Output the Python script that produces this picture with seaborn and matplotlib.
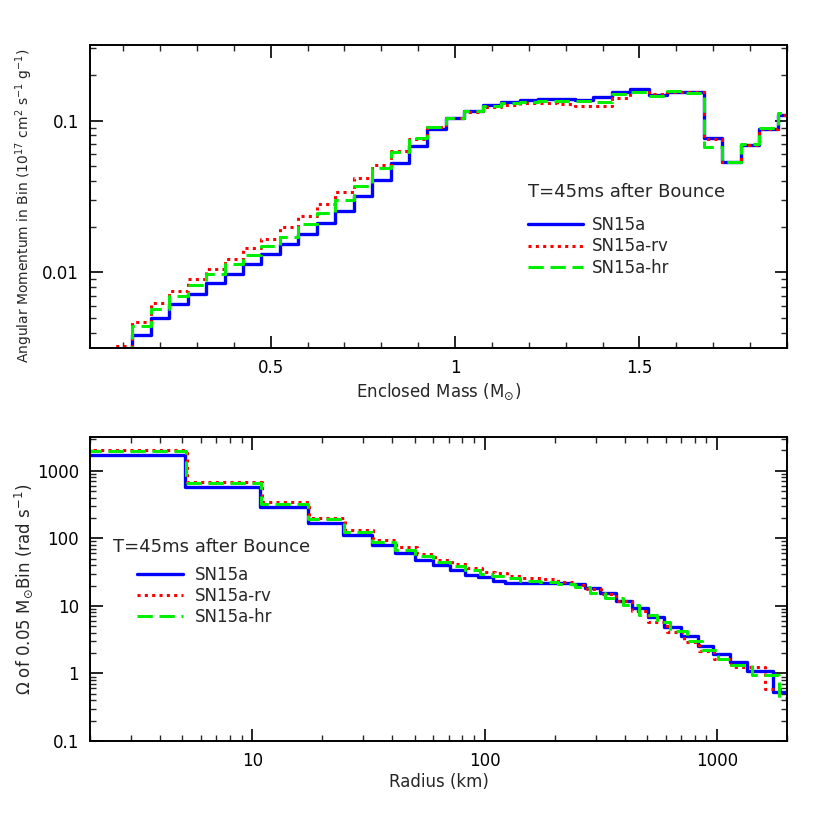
import numpy as np
import matplotlib
matplotlib.use('Agg')
import matplotlib.pyplot as plt
import seaborn as sns
from matplotlib.ticker import MultipleLocator, LogLocator, FuncFormatter, NullFormatter
from matplotlib.lines import Line2D

sns.set_style('ticks')
plt.rcParams['font.family'] = ['DejaVu Sans']
plt.rcParams['mathtext.fontset'] = 'dejavusans'

# ---------------- top panel data: angular momentum per 0.05 Msun bin ----------------
mass = [0.05, 0.10, 0.15, 0.20, 0.25, 0.30, 0.35, 0.40, 0.45, 0.50,
        0.55, 0.60, 0.65, 0.70, 0.75, 0.80, 0.85, 0.90, 0.95, 1.00,
        1.05, 1.10, 1.15, 1.20, 1.25, 1.30, 1.35, 1.40, 1.45, 1.50,
        1.55, 1.60, 1.65, 1.70, 1.75, 1.80, 1.85, 1.90]
j_sn15a = [0.0020, 0.0028, 0.00386, 0.00502, 0.00616, 0.00716, 0.00846, 0.00975, 0.0113, 0.01315,
           0.0154, 0.0180, 0.0212, 0.0255, 0.0317, 0.0404, 0.0528, 0.0680, 0.0878, 0.105,
           0.1164, 0.127, 0.1334, 0.137, 0.139, 0.139, 0.137, 0.1426, 0.154, 0.161,
           0.148, 0.155, 0.155, 0.0775, 0.0535, 0.0688, 0.0878, 0.1096]
j_sn15a_rv = [0.0022, 0.00327, 0.00472, 0.00624, 0.00756, 0.0090, 0.0105, 0.0123, 0.0144, 0.0167,
              0.0200, 0.0236, 0.0282, 0.0340, 0.0417, 0.0510, 0.0630, 0.0760, 0.0904, 0.105,
              0.1146, 0.1236, 0.128, 0.130, 0.130, 0.129, 0.1256, 0.125, 0.1406, 0.155,
              0.150, 0.155, 0.155, 0.0757, 0.0535, 0.0688, 0.0878, 0.1096]
j_sn15a_hr = [0.0020, 0.0029, 0.00443, 0.00573, 0.00698, 0.00824, 0.0097, 0.0113, 0.0130, 0.0150,
              0.0172, 0.0207, 0.0247, 0.0300, 0.0372, 0.0485, 0.0625, 0.0773, 0.0913, 0.105,
              0.1164, 0.125, 0.130, 0.1334, 0.1356, 0.1356, 0.134, 0.132, 0.150, 0.155,
              0.1457, 0.157, 0.1517, 0.0667, 0.0532, 0.0705, 0.089, 0.112]

# ---------------- bottom panel data: Omega of each 0.05 Msun bin vs radius ----------------
r_edges_sn15a = [1.0, 5.13, 10.8, 17.3, 24.6, 32.6, 41.1, 50.1, 60.1, 70.9, 82.3, 93.9,
                 108.3, 122.3, 139.5, 158.3, 178.8, 204.2, 235.3, 270.4, 313.6, 365.7,
                 429.5, 506.3, 593.2, 696.6, 824.8, 964.3, 1132, 1347, 1743, 2500]
omega_sn15a = [1727, 585, 289.3, 167.5, 112.3, 79.8, 60.1, 48.6, 40.3, 34.0, 28.9,
               26.5, 23.6, 22.0, 21.6, 21.6, 22.0, 21.6, 20.8, 18.6, 15.3, 11.9,
               9.18, 6.89, 4.90, 3.56, 2.53, 1.93, 1.50, 1.10, 0.526]
r_edges_sn15a_rv = [1.0, 5.22, 10.97, 17.58, 25.04, 32.96, 41.7, 51.0, 61.1, 72.3, 83.9,
                    97.4, 110.8, 124.8, 143.3, 178.3, 206.8, 247.3, 275.8, 316.7, 367.5,
                    430.8, 505, 609.5, 721, 837, 971, 1149, 1609, 2500]
omega_sn15a_rv = [2049, 693, 350, 198.6, 133, 94.6, 73.8, 58.1, 48.5, 41.5, 36.0,
                  32.1, 30.3, 28.0, 26.0, 24.7, 22.3, 20.4, 17.8, 14.9, 12.0,
                  8.5, 5.8, 4.05, 2.9, 2.15, 1.66, 1.24, 0.59]
r_edges_sn15a_hr = [1.0, 5.18, 10.86, 17.41, 24.8, 32.8, 41.1, 50.1, 59.9, 70.9, 82.3,
                    95.5, 107.5, 122.3, 141.9, 173.0, 206.8, 244.8, 284.0, 329.6, 394,
                    461.6, 552, 628, 740.8, 859.8, 1010, 1149, 1411, 1855, 2500]
omega_sn15a_hr = [1934, 670, 324, 192, 125.7, 89.3, 68, 54.5, 45, 38.5, 33.5,
                  30, 27.5, 25.7, 23.6, 22.9, 21.2, 18.8, 15.6, 12.9, 10.2,
                  7.3, 5.8, 4.28, 3.0, 2.2, 1.66, 1.32, 0.94, 0.434]

labels = ['SN15a', 'SN15a-rv', 'SN15a-hr']
styles = {
    'SN15a': dict(color='#0000ff', linestyle='-', linewidth=2.4),
    'SN15a-rv': dict(color='#ff0000', linestyle=(0, (1.0, 1.4)), linewidth=2.2),
    'SN15a-hr': dict(color='#00ee00', linestyle=(0, (5.0, 2.2)), linewidth=2.2),
}

W, H = 830, 830
fig = plt.figure(figsize=(W / 100, H / 100), dpi=100)
ax1 = fig.add_axes([90 / W, 1 - 348 / H, 697 / W, 303 / H])
ax2 = fig.add_axes([90 / W, 1 - 741 / H, 697 / W, 304 / H])

# top panel
for name, vals in zip(labels, [j_sn15a, j_sn15a_rv, j_sn15a_hr]):
    sns.lineplot(x=mass, y=vals, ax=ax1, estimator=None, drawstyle='steps-mid', **styles[name])

# bottom panel
bottom_sets = [(r_edges_sn15a, omega_sn15a), (r_edges_sn15a_rv, omega_sn15a_rv),
               (r_edges_sn15a_hr, omega_sn15a_hr)]
for name, (edges, om) in zip(labels, bottom_sets):
    yy = list(om) + [om[-1]]
    sns.lineplot(x=edges, y=yy, ax=ax2, estimator=None, drawstyle='steps-post', **styles[name])

fmt = FuncFormatter(lambda v, p: f'{v:g}')

ax1.set_yscale('log')
ax1.set_xlim(0.01, 1.9)
ax1.set_ylim(10 ** -2.5, 10 ** -0.5)
ax1.xaxis.set_major_locator(MultipleLocator(0.5))
ax1.xaxis.set_minor_locator(MultipleLocator(0.1))
ax1.xaxis.set_major_formatter(fmt)

ax2.set_xscale('log')
ax2.set_yscale('log')
ax2.set_xlim(2, 2000)
ax2.set_ylim(0.1, 10 ** 3.5)
ax2.xaxis.set_major_formatter(fmt)

for ax in (ax1, ax2):
    ax.yaxis.set_major_locator(LogLocator(base=10, numticks=12))
    ax.yaxis.set_minor_locator(LogLocator(base=10, subs=np.arange(2, 10), numticks=30))
    ax.yaxis.set_major_formatter(fmt)
    ax.yaxis.set_minor_formatter(NullFormatter())
    ax.tick_params(which='major', direction='in', length=9, width=1.2, top=True, right=True,
                   labelsize=12, pad=8, colors='black')
    ax.tick_params(which='minor', direction='in', length=4.5, width=1.0, top=True, right=True)
    for s in ax.spines.values():
        s.set_linewidth(1.4)
        s.set_color('black')
    ax.grid(False)

ax2.xaxis.set_major_locator(LogLocator(base=10, numticks=12))
ax2.xaxis.set_minor_locator(LogLocator(base=10, subs=np.arange(2, 10), numticks=30))
ax2.xaxis.set_minor_formatter(NullFormatter())

ax1.set_xlabel(r'Enclosed Mass (M$_{\odot}$)', fontsize=12, labelpad=3)
ax1.set_ylabel(r'Angular Momentum in Bin (10$^{17}$ cm$^{2}$ s$^{-1}$ g$^{-1}$)', fontsize=10)
ax1.yaxis.set_label_coords(-0.079, 0.47)
ax2.set_xlabel('Radius (km)', fontsize=12, labelpad=2)
ax2.set_ylabel(r'Ω of 0.05 M$_{\odot}$Bin (rad s$^{-1}$)', fontsize=12)
ax2.yaxis.set_label_coords(-0.079, 0.5)

handles = [Line2D([0], [0], **styles[n]) for n in labels]

# top legend
ax1.text((528 - 90) / 697, (348 - 192) / 303, 'T=45ms after Bounce', transform=ax1.transAxes,
         ha='left', va='center', fontsize=13)
ax1.legend(handles, labels, loc='upper left', bbox_to_anchor=((528 - 90) / 697, (348 - 216) / 303),
           frameon=False, borderaxespad=0, borderpad=0, handlelength=3.3, handletextpad=0.55,
           labelspacing=0.2, fontsize=12)

# bottom legend
ax2.text((113 - 90) / 697, (741 - 547) / 304, 'T=45ms after Bounce', transform=ax2.transAxes,
         ha='left', va='center', fontsize=13)
ax2.legend(handles, labels, loc='upper left', bbox_to_anchor=((137 - 90) / 697, (741 - 566) / 304),
           frameon=False, borderaxespad=0, borderpad=0, handlelength=2.75, handletextpad=0.72,
           labelspacing=0.18, fontsize=12)

fig.savefig('out.png', dpi=100)
